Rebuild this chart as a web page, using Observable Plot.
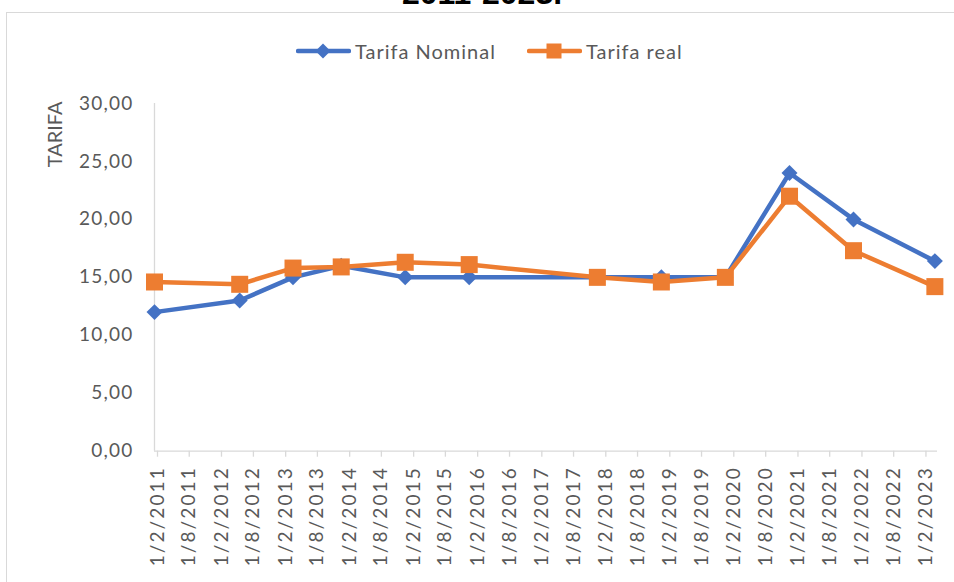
<!DOCTYPE html>
<html>
<head>
<meta charset="utf-8">
<script src="https://cdn.jsdelivr.net/npm/d3@7"></script>
<script src="https://cdn.jsdelivr.net/npm/@observablehq/plot@0.6"></script>
<style>
  html, body { margin: 0; padding: 0; background: #fff; overflow: hidden; }
  body { width: 954px; height: 582px; position: relative; font-family: Lato, "Noto Sans", sans-serif; }
  #frame { position: absolute; left: 6px; top: 12px; width: 2000px; height: 2000px; border: 1.5px solid #d9d9d9; box-sizing: border-box; }
  #title { position: absolute; left: 0; width: 964px; top: -23px; text-align: center; font-family: "Liberation Sans", Arial, sans-serif; font-weight: bold; font-size: 32px; line-height: 32px; color: #000; }
  #chart { position: absolute; left: 0; top: 0; }
  #legend { position: absolute; left: 0; top: 36px; height: 30px; width: 954px; }
  #legend .item { position: absolute; top: 0; display: flex; align-items: center; height: 30px; }
  #legend span { font-size: 20px; color: #595959; letter-spacing: 1px; margin-left: 4px; }
  g[aria-label="x-axis tick label"] text { letter-spacing: 2.1px; }
  g[aria-label="y-axis tick label"] text { letter-spacing: 1.2px; }
</style>
</head>
<body>
<div id="frame"></div>
<div id="title">2011-2023.</div>
<div id="chart"></div>
<div id="legend"></div>
<script>
// ---- data ----
const dates = ["2011-02-01","2012-06-01","2013-04-01","2014-01-01","2015-01-01","2016-01-01",
               "2018-01-01","2019-01-01","2020-01-01","2021-01-01","2022-01-01","2023-04-10"];
const nominal = [12.0, 13.0, 15.0, 16.0, 15.0, 15.0, 15.0, 15.0, 15.0, 24.0, 20.0, 16.4];
const real    = [14.6, 14.4, 15.8, 15.9, 16.3, 16.1, 15.0, 14.6, 15.0, 22.0, 17.3, 14.2];
const seriesNames = ["Tarifa Nominal", "Tarifa real"];
const tickDates = ["2011-02-01","2011-08-01","2012-02-01","2012-08-01","2013-02-01","2013-08-01",
  "2014-02-01","2014-08-01","2015-02-01","2015-08-01","2016-02-01","2016-08-01","2017-02-01",
  "2017-08-01","2018-02-01","2018-08-01","2019-02-01","2019-08-01","2020-02-01","2020-08-01",
  "2021-02-01","2021-08-01","2022-02-01","2022-08-01","2023-02-01"];
const yTicks = [0, 5, 10, 15, 20, 25, 30];
const xDomain = ["2011-02-01", "2023-04-25"];
const yLabel = "TARIFA";

const blue = "#4472C4", orange = "#ED7D31", grey = "#595959", axisGrey = "#d9d9d9";

const nomRows = dates.map((d, i) => ({date: new Date(d), value: nominal[i]}));
const realRows = dates.map((d, i) => ({date: new Date(d), value: real[i]}));
const fmtDate = d => `${d.getUTCDate()}/${d.getUTCMonth() + 1}/${d.getUTCFullYear()}`;
const fmtNum = v => v.toFixed(2).replace(".", ",");

const chart = Plot.plot({
  width: 954,
  height: 582,
  marginLeft: 154,
  marginRight: 17,
  marginTop: 103,
  marginBottom: 131.3,
  style: {fontFamily: "Lato, 'Noto Sans', sans-serif", background: "transparent", overflow: "visible"},
  x: {type: "utc", domain: xDomain.map(d => new Date(d))},
  y: {domain: [0, 30]},
  marks: [
    Plot.ruleX([new Date(xDomain[0])], {stroke: axisGrey, strokeWidth: 1.3}),
    Plot.ruleY([0], {stroke: axisGrey, strokeWidth: 1.3}),
    Plot.axisY({ticks: yTicks, tickFormat: fmtNum, tickSize: 0, tickPadding: 21, fontSize: 19,
                fill: grey, label: null}),
    Plot.axisX({ticks: tickDates.map(d => new Date(d)), tickFormat: fmtDate, tickRotate: -90,
                tickSize: 6, tickPadding: 9, fontSize: 19, stroke: axisGrey, strokeWidth: 1.3,
                fill: grey, label: null, dx: 3}),
    Plot.text([yLabel], {frameAnchor: "top-left", rotate: -90, textAnchor: "end",
                         dx: -107, dy: -2, fontSize: 20, fill: grey}),
    Plot.line(nomRows, {x: "date", y: "value", stroke: blue, strokeWidth: 4.5,
                        strokeLinejoin: "round", strokeLinecap: "round"}),
    Plot.dot(nomRows, {x: "date", y: "value", symbol: "diamond2", r: 7.2, fill: blue, stroke: "none"}),
    Plot.line(realRows, {x: "date", y: "value", stroke: orange, strokeWidth: 4.5,
                         strokeLinejoin: "round", strokeLinecap: "round"}),
    Plot.dot(realRows, {x: "date", y: "value", symbol: "square", r: 9.6, fill: orange, stroke: "none"})
  ]
});
document.getElementById("chart").appendChild(chart);

// ---- legend ----
const legend = document.getElementById("legend");
const items = [
  {name: seriesNames[0], color: blue, left: 296, shape: "diamond"},
  {name: seriesNames[1], color: orange, left: 527, shape: "square"}
];
for (const it of items) {
  const div = document.createElement("div");
  div.className = "item";
  div.style.left = it.left + "px";
  const marker = it.shape === "diamond"
    ? `<path d="M27,22.5 L34.5,15 L27,7.5 L19.5,15 Z" fill="${it.color}"/>`
    : `<rect x="19.5" y="7.5" width="15" height="15" fill="${it.color}"/>`;
  div.innerHTML = `<svg width="55" height="30"><line x1="2" y1="15" x2="53" y2="15" stroke="${it.color}" stroke-width="4.5" stroke-linecap="round"/>${marker}</svg><span>${it.name}</span>`;
  legend.appendChild(div);
}
</script>
</body>
</html>
